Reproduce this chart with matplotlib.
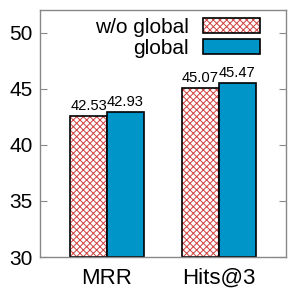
import matplotlib
matplotlib.use("Agg")
import matplotlib.pyplot as plt
from matplotlib.patches import Patch
import numpy as np

plt.rcParams['font.family'] = ['Liberation Sans', 'DejaVu Sans']

metrics = ["MRR", "Hits@3"]
wo_global = [42.53, 45.07]
with_global = [42.93, 45.47]

blue = "#0095c8"
red = "#d04040"

fig = plt.figure(figsize=(2.91, 3.01), dpi=100)
ax = fig.add_axes([0.137, 0.146, 0.846, 0.82])

x = np.arange(len(metrics))
w = 0.33
plt.rcParams['hatch.color'] = red
plt.rcParams['hatch.linewidth'] = 0.7
# hatched bars: red hatch, then black outline on top
ax.bar(x - w / 2, [v - 30 for v in wo_global], w, bottom=30, facecolor="white",
       edgecolor=red, hatch="xxxxx", linewidth=0)
ax.bar(x - w / 2, [v - 30 for v in wo_global], w, bottom=30, facecolor="none",
       edgecolor="black", linewidth=1.2)
ax.bar(x + w / 2, [v - 30 for v in with_global], w, bottom=30, facecolor=blue,
       edgecolor="black", linewidth=1.2)

for xi, v in zip(x - w / 2, wo_global):
    ax.text(xi, v + 0.3, f"{v:.2f}", ha="center", va="bottom", fontsize=10.6)
for xi, v in zip(x + w / 2, with_global):
    ax.text(xi, v + 0.3, f"{v:.2f}", ha="center", va="bottom", fontsize=10.6)

ax.set_xlim(-0.6, 1.6)
ax.set_ylim(30, 52)
ax.set_yticks([30, 35, 40, 45, 50])
ax.set_xticks(x)
ax.set_xticklabels(metrics, fontsize=16)
ax.tick_params(axis="x", length=0, pad=8)
ax.tick_params(axis="y", direction="in", right=True, length=5, color="#888888",
               labelsize=15, pad=5)
for s in ax.spines.values():
    s.set_color("#888888")
    s.set_linewidth(1.0)

h_wo = (Patch(facecolor="white", edgecolor=red, hatch="xxxxx", linewidth=0),
        Patch(facecolor="none", edgecolor="black", linewidth=1.2))
h_gl = Patch(facecolor=blue, edgecolor="black", linewidth=1.2)
leg = ax.legend([h_wo, h_gl], ["w/o global", "global"], loc="upper right",
                bbox_to_anchor=(0.894, 0.969),
                markerfirst=False, frameon=False, fontsize=15,
                handlelength=2.75, handleheight=0.7, labelspacing=0.1,
                handletextpad=0.65, borderaxespad=0, borderpad=0)
for t in leg.get_texts():
    t.set_ha("right")

fig.savefig("out.png", dpi=100)
